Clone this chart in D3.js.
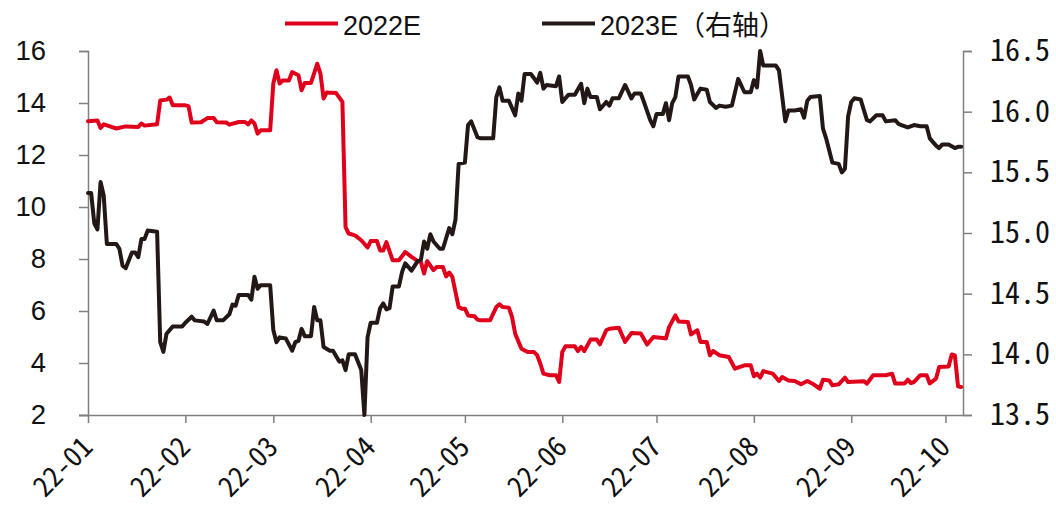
<!DOCTYPE html>
<html>
<head>
<meta charset="utf-8">
<script src="https://cdn.jsdelivr.net/npm/d3@7"></script>
<style>
  html, body { margin: 0; padding: 0; background: #fff; }
  svg { display: block; }
</style>
</head>
<body>
<svg id="chart" width="1056" height="507"></svg>
<script>
// 2022E series (left axis): trading dates and values
const dates2022 = ["01-01","01-04","01-05","01-06","01-08","01-10","01-13","01-17","01-18","01-19","01-23","01-24","01-26","01-27","01-28",
  "02-01","02-02","02-03","02-06","02-08","02-10","02-11","02-14","02-15","02-18","02-20","02-21","02-22","02-23","02-24","02-25","02-28",
  "03-01","03-02","03-03","03-04","03-06","03-07","03-09","03-10","03-11","03-13","03-15","03-16","03-17","03-18","03-21","03-23","03-24","03-25","03-27","03-29","03-31",
  "04-01","04-03","04-04","04-05","04-06","04-08","04-10","04-12","04-14","04-16","04-17","04-18","04-19","04-21","04-22","04-24","04-25","04-26","04-27","04-29","04-30",
  "05-01","05-02","05-04","05-05","05-06","05-09","05-11","05-12","05-13","05-15","05-16","05-17","05-19","05-21","05-23","05-24","05-25","05-26","05-28","05-30","05-31",
  "06-01","06-02","06-05","06-06","06-07","06-08","06-10","06-12","06-13","06-15","06-16","06-19","06-21","06-23","06-26","06-28","06-30",
  "07-03","07-04","07-05","07-07","07-08","07-11","07-12","07-14","07-15","07-17","07-18","07-19","07-21","07-24","07-26","07-29","07-31",
  "08-01","08-02","08-03","08-04","08-07","08-09","08-10","08-12","08-14","08-16","08-18","08-20","08-22","08-23","08-25","08-26","08-28","08-30","08-31",
  "09-05","09-06","09-08","09-12","09-14","09-15","09-18","09-19","09-20","09-21","09-23","09-25","09-26","09-28","09-29",
  "10-02","10-03","10-04","10-05","10-06"];
const values2022 = [13.30,13.33,13.04,13.18,13.10,13.02,13.10,13.08,13.21,13.13,13.18,14.10,14.13,14.21,13.91,
  13.91,13.88,13.25,13.26,13.42,13.42,13.26,13.25,13.17,13.27,13.27,13.18,13.33,13.21,12.82,12.95,12.95,
  14.75,15.26,14.75,14.87,14.87,15.19,15.07,14.49,14.77,14.77,15.51,15.13,14.17,14.40,14.38,14.04,9.23,8.98,8.91,8.72,8.44,
  8.69,8.69,8.33,8.33,8.65,7.95,7.95,8.27,8.08,7.92,7.88,7.44,7.92,7.57,7.69,7.69,7.33,7.48,7.31,6.15,6.09,
  6.09,5.83,5.80,5.67,5.64,5.64,6.15,6.26,6.15,6.13,5.77,5.13,4.55,4.42,4.42,4.30,3.98,3.59,3.53,3.53,3.27,
  4.42,4.64,4.64,4.46,4.62,4.46,4.90,4.90,4.72,5.26,5.32,5.36,4.81,5.15,5.13,4.71,5.00,
  4.96,4.94,5.38,5.83,5.60,5.58,5.10,5.26,4.81,4.81,4.30,4.46,4.30,4.23,3.78,3.91,3.91,
  3.49,3.59,3.44,3.69,3.59,3.31,3.46,3.33,3.31,3.18,3.31,3.18,3.01,3.36,3.33,3.14,3.18,3.44,3.27,
  3.30,3.21,3.53,3.53,3.59,3.21,3.21,3.36,3.23,3.27,3.53,3.53,3.21,3.40,3.85,
  3.87,4.33,4.29,3.10,3.08];

// 2023E series (right axis)
const dates2023 = ["01-01","01-02","01-03","01-04","01-05","01-06","01-07","01-10","01-11","01-12","01-13","01-15","01-16","01-17","01-18","01-19","01-20","01-23","01-24","01-25","01-26","01-28","01-31",
  "02-01","02-03","02-04","02-07","02-08","02-10","02-11","02-13","02-15","02-16","02-17","02-18","02-21","02-22","02-23","02-24","02-25","02-28",
  "03-01","03-02","03-03","03-05","03-07","03-08","03-09","03-10","03-11","03-13","03-14","03-15","03-16","03-17","03-19","03-20","03-22","03-23","03-24","03-25","03-27","03-29","03-30","03-31",
  "04-01","04-03","04-04","04-05","04-06","04-07","04-08","04-10","04-11","04-12","04-14","04-16","04-17","04-18","04-19","04-20","04-21","04-23","04-24","04-26","04-27","04-28","04-29",
  "05-01","05-02","05-03","05-05","05-06","05-10","05-11","05-12","05-13","05-15","05-17","05-18","05-19","05-20","05-22","05-24","05-25","05-26","05-27","05-30","05-31",
  "06-01","06-03","06-05","06-07","06-08","06-09","06-10","06-12","06-13","06-15","06-16","06-17","06-19","06-21","06-23","06-24","06-26","06-27","06-29","06-30",
  "07-01","07-03","07-04","07-05","07-06","07-07","07-08","07-11","07-12","07-13","07-15","07-17","07-18","07-20","07-21","07-23","07-25","07-27","07-29","07-31",
  "08-01","08-02","08-03","08-04","08-08","08-09","08-11","08-12","08-14","08-16","08-17","08-18","08-19","08-22","08-23","08-24","08-26","08-28","08-29","08-30","08-31",
  "09-01","09-02","09-04","09-06","09-07","09-09","09-11","09-12","09-15","09-16","09-17","09-19","09-21","09-23","09-25","09-26","09-28","09-29","09-30",
  "10-02","10-04","10-05","10-06"];
const values2023 = [15.33,15.33,15.08,15.03,15.42,15.31,14.91,14.91,14.87,14.73,14.71,14.84,14.84,14.80,14.95,14.95,15.02,15.01,14.10,14.02,14.17,14.23,14.23,
  14.26,14.31,14.28,14.27,14.25,14.36,14.28,14.28,14.33,14.41,14.40,14.49,14.49,14.45,14.64,14.54,14.57,14.57,
  14.20,14.10,14.14,14.13,14.03,14.10,14.11,14.21,14.15,14.15,14.39,14.28,14.28,14.06,14.03,14.03,13.94,13.95,13.87,14.00,14.00,13.87,13.50,14.14,
  14.26,14.26,14.38,14.42,14.37,14.38,14.56,14.56,14.68,14.75,14.69,14.77,14.78,14.93,14.87,14.99,14.93,14.87,14.87,15.04,14.99,15.11,15.57,
  15.58,15.89,15.92,15.79,15.78,15.78,16.12,16.20,16.09,16.09,15.97,16.15,16.09,16.31,16.31,16.24,16.32,16.19,16.22,16.21,16.29,
  16.08,16.14,16.14,16.23,16.07,16.19,16.12,16.12,16.02,16.08,16.05,16.11,16.11,16.22,16.11,16.15,16.15,16.08,15.93,15.88,
  15.98,15.98,16.07,15.93,16.07,16.12,16.29,16.29,16.22,16.10,16.19,16.18,16.08,16.03,16.05,16.04,16.05,16.27,16.16,16.16,
  16.26,16.20,16.50,16.38,16.38,16.34,15.92,16.01,16.01,16.02,15.95,16.09,16.12,16.13,15.86,15.78,15.58,15.57,15.50,15.53,15.96,
  16.08,16.11,16.10,15.93,15.92,15.97,15.97,15.92,15.93,15.90,15.89,15.87,15.89,15.88,15.88,15.78,15.72,15.70,15.73,
  15.73,15.70,15.71,15.71];

// Axis ticks
const leftTicks = [2, 4, 6, 8, 10, 12, 14, 16];
const rightTicks = [13.5, 14.0, 14.5, 15.0, 15.5, 16.0, 16.5];
const monthTicks = ["2022-01","2022-02","2022-03","2022-04","2022-05","2022-06","2022-07","2022-08","2022-09","2022-10"];
const seriesNames = ["2022E", "2023E（右轴）"];

const RED = "#e0001b";
const DARK = "#231815";
const AXIS = "#808080";

const parseDay = d3.timeParse("%Y-%m-%d");
const parseMonth = d3.timeParse("%Y-%m");
const toPoints = (ds, vs) => ds.map((d, i) => ({ date: parseDay("2022-" + d), value: vs[i] }));
const s2022 = toPoints(dates2022, values2022);
const s2023 = toPoints(dates2023, values2023);

const svg = d3.select("#chart");
const plotLeft = 88, plotRight = 963, plotTop = 51, plotBottom = 415;

const x = d3.scaleTime()
  .domain([new Date(2022, 0, 1), new Date(2022, 9, 6, 14)])
  .range([plotLeft, plotRight]);
const yL = d3.scaleLinear().domain([2, 16]).range([plotBottom, plotTop]);
const yR = d3.scaleLinear().domain([13.5, 16.5]).range([plotBottom, plotTop]);

const latinFont = "'Liberation Sans', Arial, sans-serif";
const monoFont = "'Noto Sans Mono CJK SC', 'DejaVu Sans Mono', monospace";

// Left axis
const gL = svg.append("g").attr("transform", `translate(${plotLeft},0)`)
  .call(d3.axisLeft(yL).tickValues(leftTicks).tickSize(9).tickPadding(33).tickFormat(d3.format("d")));
gL.select(".domain").attr("stroke", AXIS).attr("stroke-width", 1.5);
gL.selectAll(".tick line").attr("stroke", AXIS).attr("stroke-width", 1.5);
gL.selectAll(".tick text").attr("fill", "#111").style("font-family", latinFont).style("font-size", "27.5px");

// Right axis
const gR = svg.append("g").attr("transform", `translate(${plotRight},0)`)
  .call(d3.axisRight(yR).tickValues(rightTicks).tickSize(9).tickPadding(18).tickFormat(d3.format(".1f")));
gR.select(".domain").attr("stroke", AXIS).attr("stroke-width", 1.5);
gR.selectAll(".tick line").attr("stroke", AXIS).attr("stroke-width", 1.5);
gR.selectAll(".tick text").attr("fill", "#111").style("font-family", monoFont).style("font-size", "30px");

// Bottom axis, month labels slanted at 45 degrees
const gB = svg.append("g").attr("transform", `translate(0,${plotBottom})`)
  .call(d3.axisBottom(x).tickValues(monthTicks.map(parseMonth)).tickSize(8).tickFormat(d3.timeFormat("%y-%m")));
gB.select(".domain").attr("stroke", AXIS).attr("stroke-width", 1.5).attr("d", `M${plotLeft - 9},0.5H${plotRight}`);
gB.selectAll(".tick line").attr("stroke", AXIS).attr("stroke-width", 1.5);
gB.selectAll(".tick text")
  .attr("fill", "#111")
  .style("font-family", monoFont).style("font-size", "28px")
  .attr("text-anchor", "end")
  .attr("y", 0).attr("dy", "0.35em")
  .attr("transform", "translate(-1,27) rotate(-45)");

// Series lines
const lineL = d3.line().x(d => x(d.date)).y(d => yL(d.value));
const lineR = d3.line().x(d => x(d.date)).y(d => yR(d.value));

svg.append("path").datum(s2022)
  .attr("d", lineL).attr("fill", "none").attr("stroke", RED)
  .attr("stroke-width", 4).attr("stroke-linejoin", "round").attr("stroke-linecap", "round");
svg.append("path").datum(s2023)
  .attr("d", lineR).attr("fill", "none").attr("stroke", DARK)
  .attr("stroke-width", 4).attr("stroke-linejoin", "round").attr("stroke-linecap", "round");

// Legend
const legend = [
  { name: seriesNames[0], color: RED, x: 285 },
  { name: seriesNames[1], color: DARK, x: 542 }
];
const lg = svg.append("g");
legend.forEach(it => {
  lg.append("line").attr("x1", it.x).attr("x2", it.x + 53).attr("y1", 23.5).attr("y2", 23.5)
    .attr("stroke", it.color).attr("stroke-width", 4);
  lg.append("text").attr("x", it.x + 58).attr("y", 35)
    .style("font-family", "'Liberation Sans', 'Noto Sans CJK SC', sans-serif").style("font-size", "27px")
    .attr("fill", "#111").text(it.name);
});
</script>
</body>
</html>
